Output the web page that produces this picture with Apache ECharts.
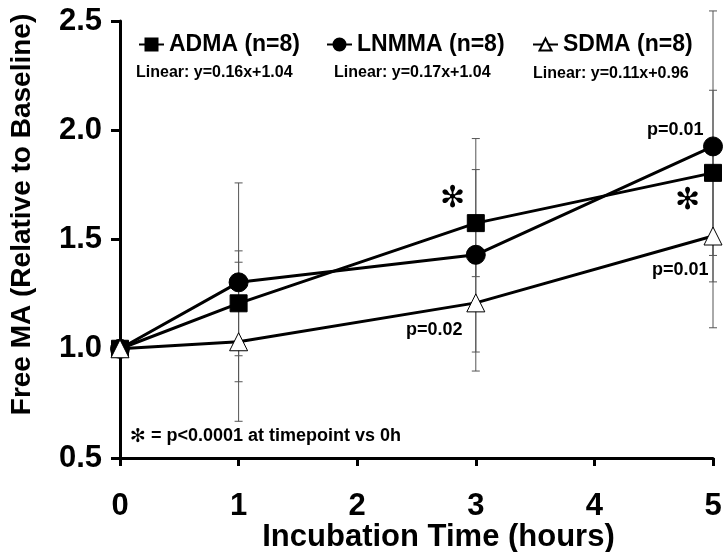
<!DOCTYPE html>
<html>
<head>
<meta charset="utf-8">
<script src="https://cdn.jsdelivr.net/npm/echarts@6/dist/echarts.min.js"></script>
<style>
  html, body { margin: 0; padding: 0; background: #fff; }
  #chart { width: 723px; height: 552px; }
</style>
</head>
<body>
<div id="chart"></div>
<script>
// incubation hours
var hours = [0, 1, 3, 5];
// mean free MA relative to baseline
var adma = [1.0, 1.208, 1.575, 1.805];
var lnmma = [1.0, 1.304, 1.43, 1.926];
var sdma = [1.0, 1.032, 1.21, 1.516];
// error bar half-widths (SD)
var admaErr = [0, 0.24, 0.245, 0.378];
var lnmmaErr = [0, 0.455, 0.532, 0.62];
var sdmaErr = [0, 0.364, 0.225, 0.42];
var yTicks = [0.5, 1.0, 1.5, 2.0, 2.5];
var names = ['ADMA (n=8)', 'LNMMA (n=8)', 'SDMA (n=8)'];

var FONT = '"Liberation Sans", Arial, sans-serif';

function pairs(ys) {
  return hours.map(function (h, i) { return [h, ys[i]]; });
}
function errRows(ys, es) {
  return hours.map(function (h, i) { return [h, ys[i] - es[i], ys[i] + es[i]]; });
}

// error bar drawing
function renderErr(params, api) {
  var x = api.value(0);
  var lo = api.coord([x, api.value(1)]);
  var hi = api.coord([x, api.value(2)]);
  var w = 4;
  var st = { stroke: '#555', lineWidth: 1 };
  return {
    type: 'group',
    children: [
      { type: 'line', shape: { x1: lo[0], y1: lo[1], x2: hi[0], y2: hi[1] }, style: st },
      { type: 'line', shape: { x1: lo[0] - w, y1: lo[1], x2: lo[0] + w, y2: lo[1] }, style: st },
      { type: 'line', shape: { x1: hi[0] - w, y1: hi[1], x2: hi[0] + w, y2: hi[1] }, style: st }
    ]
  };
}

function errSeries(ys, es) {
  return {
    type: 'custom',
    renderItem: renderErr,
    data: errRows(ys, es),
    encode: { x: 0, y: [1, 2] },
    z: 1,
    silent: true
  };
}

function lineSeries(name, ys, symbol, size, fill) {
  return {
    name: name,
    type: 'line',
    data: pairs(ys),
    symbol: symbol,
    symbolSize: size,
    showAllSymbol: true,
    lineStyle: { color: '#000', width: 3 },
    itemStyle: { color: fill, borderColor: '#000', borderWidth: 1 },
    z: 3
  };
}

function legendAt(left, name) {
  return {
    left: left,
    top: 28,
    itemWidth: 25,
    itemHeight: 15,
    textStyle: { fontSize: 23, fontWeight: 'bold', color: '#000', fontFamily: FONT },
    data: [name]
  };
}

var myChart = echarts.init(document.getElementById('chart'));

function txt(left, top, text, size) {
  return {
    type: 'text', left: left, top: top, z: 10,
    style: { text: text, fill: '#000', font: 'bold ' + size + 'px ' + FONT }
  };
}
function star(left, top, size) {
  return {
    type: 'text', left: left, top: top, z: 10,
    style: { text: '\u273B', fill: '#000', font: size + 'px "DejaVu Sans", sans-serif' }
  };
}

var option = {
  backgroundColor: '#fff',
  animation: false,
  textStyle: { fontFamily: FONT },
  grid: { left: 120, right: 10, top: 21, bottom: 94, containLabel: false, outerBoundsMode: 'none' },
  legend: [
    legendAt(133, names[0]),
    legendAt(321, names[1]),
    legendAt(527, names[2])
  ],
  xAxis: {
    type: 'value',
    min: 0,
    max: 5,
    interval: 1,
    name: 'Incubation Time (hours)',
    nameLocation: 'middle',
    nameGap: 64,
    nameMoveOverlap: false,
    nameTextStyle: {
      fontSize: 31, fontWeight: 'bold', color: '#000', fontFamily: FONT,
      padding: [0, 0, 0, 44]
    },
    axisLine: { lineStyle: { color: '#000', width: 3 } },
    axisTick: { length: 8, lineStyle: { color: '#000', width: 3 } },
    axisLabel: { fontSize: 31, fontWeight: 'bold', color: '#000', margin: 33, fontFamily: FONT },
    splitLine: { show: false }
  },
  yAxis: {
    type: 'value',
    min: yTicks[0],
    max: yTicks[yTicks.length - 1],
    interval: 0.5,
    name: 'Free MA (Relative to Baseline)',
    nameLocation: 'middle',
    nameGap: 84,
    nameMoveOverlap: false,
    nameTextStyle: {
      fontSize: 28, fontWeight: 'bold', color: '#000', fontFamily: FONT,
      padding: [0, 0, 0, 50]
    },
    axisLine: { show: true, lineStyle: { color: '#000', width: 3 } },
    axisTick: { show: true, length: 9, lineStyle: { color: '#000', width: 3 } },
    axisLabel: {
      fontSize: 31, fontWeight: 'bold', color: '#000', margin: 18, fontFamily: FONT,
      formatter: function (v) { return v.toFixed(1); }
    },
    splitLine: { show: false }
  },
  graphic: [
    txt(136, 65, 'Linear: y=0.16x+1.04', 16),
    txt(334, 65, 'Linear: y=0.17x+1.04', 16),
    txt(533, 66, 'Linear: y=0.11x+0.96', 16),
    txt(647, 121, 'p=0.01', 18),
    txt(652, 261, 'p=0.01', 18),
    txt(406, 321, 'p=0.02', 18),
    star(440, 184, 30),
    star(675, 186, 30),
    star(130, 428, 19),
    txt(151, 427, '= p<0.0001 at timepoint vs 0h', 18)
  ],
  series: [
    errSeries(adma, admaErr),
    errSeries(lnmma, lnmmaErr),
    errSeries(sdma, sdmaErr),
    lineSeries(names[0], adma, 'rect', 17, '#000'),
    lineSeries(names[1], lnmma, 'circle', 19, '#000'),
    lineSeries(names[2], sdma, 'triangle', 18, '#fff')
  ]
};

myChart.setOption(option);
window.addEventListener('resize', function () { myChart.resize(); });
</script>
</body>
</html>
